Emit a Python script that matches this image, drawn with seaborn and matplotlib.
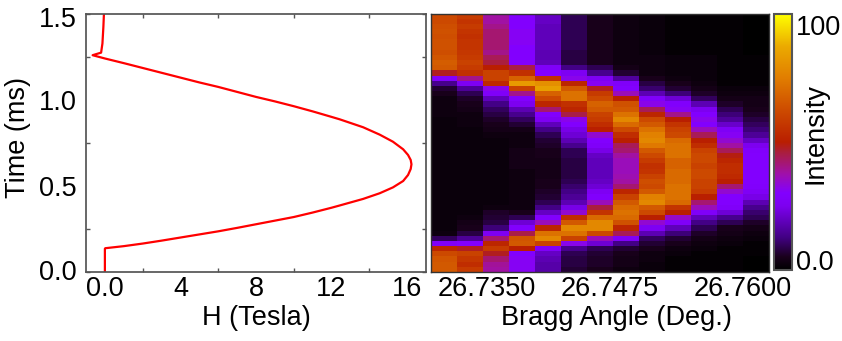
import matplotlib
matplotlib.use("Agg")
import matplotlib.pyplot as plt
from matplotlib.colors import LinearSegmentedColormap
import numpy as np
import pandas as pd
import seaborn as sns

# field pulse
time_ms = [0.0, 0.135, 0.138, 0.15, 0.165, 0.182, 0.2, 0.218, 0.236, 0.256, 0.277, 0.298, 0.319, 0.345,
           0.373, 0.386, 0.424, 0.457, 0.491, 0.528, 0.563, 0.598, 0.625, 0.65, 0.679, 0.712, 0.756, 0.797,
           0.84, 0.886, 0.9, 0.932, 0.962, 0.99, 1.016,
           1.045, 1.074, 1.1, 1.128, 1.156, 1.184, 1.212, 1.239, 1.258, 1.273, 1.326, 1.422, 1.5]
field_tesla = [0.0, 0.0, 0.02, 1.0, 2.0, 3.0, 4.0, 5.0, 6.0, 7.0, 8.0, 9.0, 10.0, 11.0,
               12.0, 12.43, 13.67, 14.55, 15.25, 15.79, 16.05, 16.19, 16.23, 16.19, 16.05, 15.79, 15.25, 14.55,
               13.67, 12.43, 12.0, 11.0, 10.0, 9.0, 8.0,
               7.0, 6.0, 5.0, 4.0, 3.0, 2.0, 1.0, 0.0, -0.65, -0.2, -0.13, -0.08, -0.05]

# intensity per angle column, rows run from 1.5 ms at the top down to 0 ms
col_01 = [62, 62, 63, 64, 63, 64, 64, 63, 65, 67, 66, 48, 30, 14, 7, 5, 3, 3, 3, 3, 2, 2, 2, 2, 2,
          2, 2, 2, 2, 2, 2, 2, 2, 2, 2, 2, 2, 2, 2, 2, 2, 2, 3, 10, 28, 52, 62, 65, 66, 66]
col_02 = [58, 56, 58, 56, 55, 56, 56, 57, 58, 60, 58, 55, 40, 26, 15, 9, 6, 5, 4, 3, 3, 3, 2, 2, 2,
          2, 2, 2, 2, 2, 2, 2, 2, 2, 2, 2, 2, 2, 2, 3, 4, 5, 8, 15, 30, 48, 60, 57, 54, 58]
col_03 = [38, 38, 40, 42, 42, 42, 42, 40, 44, 46, 50, 60, 60, 53, 32, 28, 19, 13, 10, 8, 6, 5, 4, 3, 2,
          2, 2, 2, 2, 2, 2, 2, 2, 2, 2, 2, 2, 3, 6, 7, 8, 12, 26, 42, 52, 58, 48, 42, 39, 38]
col_04 = [30, 30, 30, 31, 31, 31, 30, 30, 30, 30, 45, 55, 68, 83, 60, 40, 30, 25, 18, 14, 10, 7, 4, 3, 3,
          3, 4, 4, 4, 4, 3, 3, 3, 3, 3, 3, 3, 3, 5, 9, 22, 30, 45, 65, 66, 50, 30, 31, 31, 31]
col_05 = [20, 20, 19, 19, 19, 19, 19, 18, 18, 19, 28, 30, 55, 80, 84, 68, 62, 52, 42, 30, 26, 19, 13, 9, 7,
          6, 5, 5, 4, 4, 4, 4, 5, 5, 6, 7, 9, 13, 20, 30, 36, 52, 72, 78, 60, 28, 20, 18, 17, 17]
col_06 = [9, 9, 9, 9, 9, 9, 9, 8, 8, 8, 13, 26, 32, 52, 66, 72, 72, 55, 52, 45, 32, 30, 24, 22, 18,
          14, 9, 9, 8, 8, 8, 8, 9, 11, 13, 15, 18, 24, 34, 54, 66, 78, 72, 60, 32, 14, 9, 8, 8, 7]
col_07 = [5, 5, 5, 5, 5, 5, 5, 5, 5, 5, 9, 14, 26, 31, 48, 58, 62, 68, 66, 60, 58, 54, 50, 34, 30,
          28, 24, 20, 19, 19, 19, 19, 20, 22, 26, 29, 36, 46, 56, 70, 78, 78, 62, 36, 22, 9, 7, 6, 6, 5]
col_08 = [3, 3, 3, 3, 3, 3, 3, 3, 3, 3, 4, 7, 16, 28, 30, 36, 50, 64, 66, 72, 78, 70, 62, 54, 50,
          44, 42, 38, 36, 36, 36, 37, 38, 42, 52, 60, 66, 70, 72, 70, 64, 52, 44, 28, 13, 7, 5, 4, 4, 3]
col_09 = [2, 2, 2, 2, 2, 2, 2, 2, 3, 3, 3, 3, 5, 8, 11, 18, 28, 32, 44, 52, 62, 66, 72, 76, 78,
          74, 66, 62, 58, 55, 56, 60, 63, 62, 66, 76, 78, 66, 62, 50, 34, 26, 18, 10, 7, 5, 3, 3, 2, 2]
col_10 = [1, 1, 1, 1, 1, 1, 1, 1, 2, 2, 2, 2, 3, 5, 7, 12, 22, 29, 31, 40, 50, 56, 60, 62, 70,
          72, 72, 72, 68, 68, 70, 70, 70, 72, 72, 72, 70, 56, 50, 35, 28, 19, 12, 7, 5, 3, 2, 1, 1, 1]
col_11 = [1, 1, 1, 1, 1, 1, 1, 1, 2, 2, 2, 2, 2, 3, 4, 6, 10, 18, 25, 30, 32, 30, 36, 44, 50,
          54, 60, 62, 62, 60, 62, 62, 60, 60, 58, 50, 42, 36, 28, 19, 13, 9, 6, 4, 3, 2, 1, 1, 1, 1]
col_12 = [1, 1, 1, 1, 1, 1, 1, 1, 1, 1, 1, 1, 1, 1, 2, 3, 4, 6, 9, 12, 15, 21, 27, 31, 34,
          38, 44, 49, 52, 54, 54, 53, 50, 42, 34, 30, 30, 28, 22, 14, 9, 5, 4, 3, 2, 1, 1, 1, 1, 1]
col_13 = [0, 0, 0, 0, 0, 0, 0, 0, 1, 1, 1, 1, 1, 1, 2, 3, 4, 4, 5, 6, 8, 10, 12, 15, 20,
          25, 29, 30, 30, 30, 30, 30, 30, 29, 27, 24, 18, 14, 11, 9, 6, 4, 3, 2, 1, 1, 1, 0, 0, 0]

angle_cols = [col_01, col_02, col_03, col_04, col_05, col_06, col_07,
              col_08, col_09, col_10, col_11, col_12, col_13]
angle_labels = ["26.7350", "26.7475", "26.7600"]
time_labels = ["0.0", "0.5", "1.0", "1.5"]
field_labels = ["0.0", "4", "8", "12", "16"]

sns.set_theme(style="white")
plt.rcParams['font.family'] = ['Liberation Sans', 'DejaVu Sans']
plt.rcParams['font.size'] = 19.5
plt.rcParams['axes.edgecolor'] = '#555555'
plt.rcParams['axes.labelcolor'] = 'black'
plt.rcParams['text.color'] = 'black'

W, H = 842, 341
fig = plt.figure(figsize=(W / 100, H / 100), dpi=100)


def box(x0, x1, y0, y1):
    return [x0 / W, (H - y1) / H, (x1 - x0) / W, (y1 - y0) / H]


ax_h = fig.add_axes(box(86, 426, 13.5, 272))
ax_map = fig.add_axes(box(430.5, 769, 13.5, 272))
ax_bar = fig.add_axes(box(774, 792, 13.5, 270))

# left panel, field vs time
sns.lineplot(x=field_tesla, y=time_ms, sort=False, estimator=None, color='#ff0000', lw=1.6, ax=ax_h)
ax_h.set_xlim(-1, 17)
ax_h.set_ylim(0, 1.5)
ax_h.set_xticks([0, 4, 8, 12, 16], field_labels)
ax_h.set_xticks(np.arange(0, 17, 2), minor=True)
# label anchors are nudged so the end labels sit inside the frame like the original
ax_h.set_yticks([0.012, 0.5, 1.0, 1.482], time_labels)
ax_h.set_yticks(np.arange(0, 1.51, 0.25), minor=True)
ax_h.tick_params(which='major', length=0, labelsize=19.5, pad=3, colors='black')
ax_h.tick_params(axis='y', which='major', pad=7)
ax_h.tick_params(which='minor', direction='in', length=3, width=1, color='#555555',
                 top=True, bottom=True, left=True, right=True)
ax_h.set_xlabel("H (Tesla)", fontsize=19.5, labelpad=2)
ax_h.set_ylabel("Time (ms)", fontsize=19.5, va='center')
ax_h.yaxis.set_label_coords(-0.2, 0.522)

# intensity map
cmap = LinearSegmentedColormap.from_list("intensity", [
    (0.0, (0, 0, 0)),
    (0.05, (25 / 255, 0, 28 / 255)),
    (0.125, (65 / 255, 0, 130 / 255)),
    (0.25, (125 / 255, 0, 240 / 255)),
    (0.30, (130 / 255, 0, 1)),
    (0.375, (160 / 255, 16 / 255, 170 / 255)),
    (0.46, (170 / 255, 30 / 255, 60 / 255)),
    (0.50, (185 / 255, 30 / 255, 0)),
    (0.625, (205 / 255, 75 / 255, 0)),
    (0.75, (225 / 255, 125 / 255, 0)),
    (0.875, (235 / 255, 170 / 255, 0)),
    (1.0, (1, 1, 0)),
])
intensity = pd.DataFrame(np.array(angle_cols).T)
sns.heatmap(intensity, cmap=cmap, vmin=0, vmax=100, ax=ax_map, cbar_ax=ax_bar,
            xticklabels=False, yticklabels=False, linewidths=0)
n_rows, n_cols = intensity.shape
for side in ax_map.spines.values():
    side.set_visible(True)
    side.set_color('#333333')
    side.set_linewidth(1)
ax_map.set_xticks([2.17, 6.9, 12.0], angle_labels)
ax_map.set_xticks(np.arange(2, n_cols, 2), minor=True)
ax_map.set_yticks([(1.5 - t) / 1.5 * n_rows for t in [0.25, 0.5, 0.75, 1.0, 1.25]], minor=True)
ax_map.tick_params(which='major', length=0, labelsize=19.5, pad=3, colors='black')
ax_map.tick_params(which='minor', direction='in', length=3, width=1, color='black',
                   top=True, bottom=True, left=True, right=True)
ax_map.set_xlabel("Bragg Angle (Deg.)", fontsize=19.5, labelpad=0)
ax_map.xaxis.set_label_coords(0.548, -0.128)

# colour bar
cbar = ax_map.collections[0].colorbar
cbar.set_ticks([3.9, 95.5], labels=["0.0", "100"])
cbar.ax.set_yticks(np.arange(12.5, 100, 12.5), minor=True)
cbar.ax.tick_params(which='major', length=0, labelsize=19.5, pad=3, colors='black')
cbar.ax.tick_params(which='minor', direction='in', length=3, width=1.2, color='black',
                    left=True, right=True)
cbar.outline.set_edgecolor('#555555')
cbar.outline.set_linewidth(1.5)
cbar.set_label("Intensity", fontsize=19.5)
cbar.ax.yaxis.set_label_coords(2.28, 0.534)
cbar.ax.yaxis.label.set_verticalalignment('center')

fig.savefig("out.png", dpi=100)
